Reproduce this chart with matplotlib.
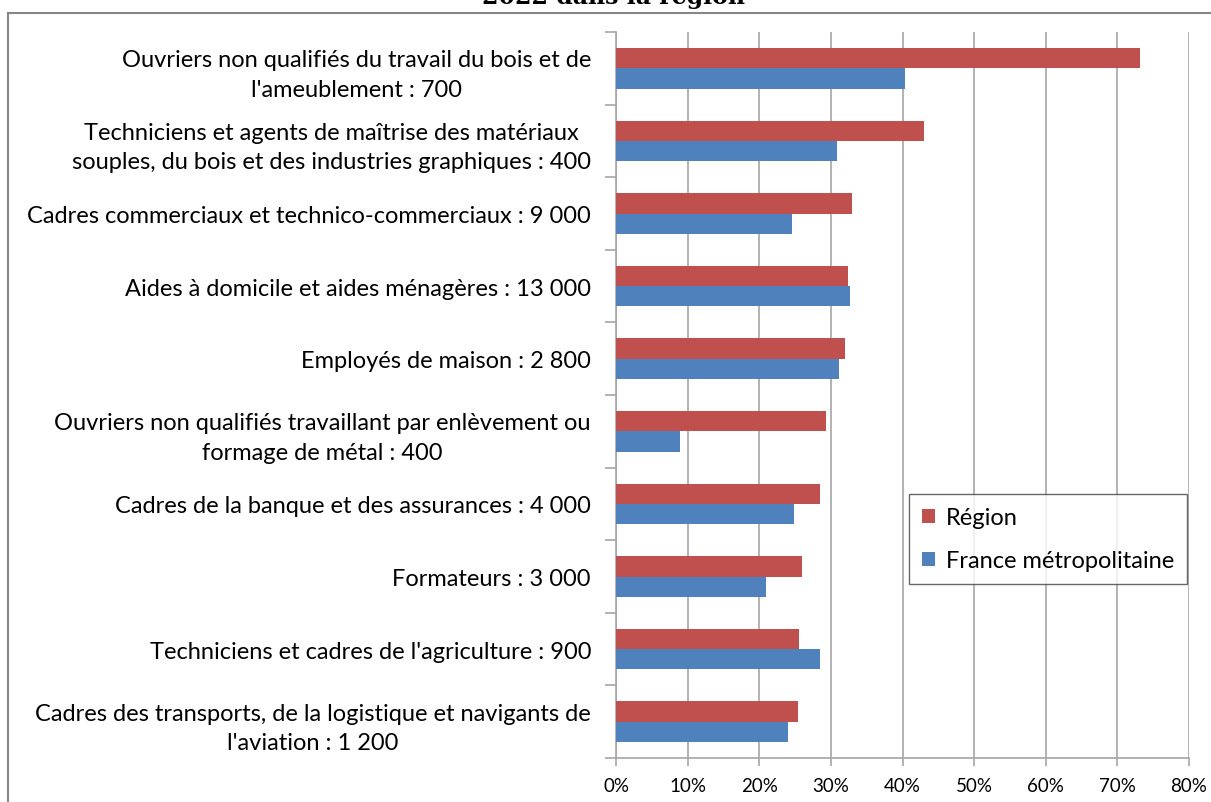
import matplotlib.pyplot as plt
from matplotlib.lines import Line2D
import numpy as np

plt.rcParams['font.family'] = ['Lato', 'DejaVu Sans']

categories = [
    "Ouvriers non qualifiés du travail du bois et de\nl'ameublement : 700",
    "Techniciens et agents de maîtrise des matériaux\nsouples, du bois et des industries graphiques : 400",
    "Cadres commerciaux et technico-commerciaux : 9 000",
    "Aides à domicile et aides ménagères : 13 000",
    "Employés de maison : 2 800",
    "Ouvriers non qualifiés travaillant par enlèvement ou\nformage de métal : 400",
    "Cadres de la banque et des assurances : 4 000",
    "Formateurs : 3 000",
    "Techniciens et cadres de l'agriculture : 900",
    "Cadres des transports, de la logistique et navigants de\nl'aviation : 1 200",
]
region = [73.2, 43.0, 32.9, 32.4, 32.0, 29.3, 28.5, 25.9, 25.6, 25.4]
france = [40.4, 30.8, 24.6, 32.7, 31.1, 9.0, 24.8, 20.9, 28.5, 24.0]
xticks = [0, 10, 20, 30, 40, 50, 60, 70, 80]

red = '#c0504d'
blue = '#4f81bd'
grid = '#a6a6a6'

W, H = 1211, 803
fig = plt.figure(figsize=(W / 100, H / 100), dpi=100)
ax = fig.add_axes([616 / W, 1 - 759 / H, (1189 - 616) / W, (759 - 33) / H])

n = len(categories)
y = np.arange(n)
h = 0.28
ax.barh(y - h / 2, region, height=h, color=red, label='Région', zorder=3)
ax.barh(y + h / 2, france, height=h, color=blue, label='France métropolitaine', zorder=3)

ax.set_ylim(n - 0.5, -0.5)
ax.set_xlim(0, 80)
ax.set_xticks(xticks)
ax.set_xticklabels([f'{t}%' for t in xticks], fontsize=13.5)
ax.set_yticks(y)
ax.set_yticklabels(categories, fontsize=17, multialignment='center', linespacing=1.5)
ax.tick_params(axis='y', length=0, pad=18)
ax.set_yticks(np.arange(n + 1) - 0.5, minor=True)
ax.tick_params(axis='y', which='minor', length=8, color=grid, width=1.2)
ax.tick_params(axis='x', length=6, color=grid, width=1.2, pad=8)

ax.grid(axis='x', color=grid, linewidth=1.2, zorder=0)
for s in ['top', 'right']:
    ax.spines[s].set_visible(False)
for s in ['left', 'bottom']:
    ax.spines[s].set_color(grid)
    ax.spines[s].set_linewidth(1.2)

leg = ax.legend(loc='upper left', bbox_to_anchor=((909 - 616) / (1189 - 616), 1 - (495 - 33) / (759 - 33)),
                fontsize=17, frameon=True, fancybox=False, edgecolor='#404040',
                handlelength=0.55, handleheight=0.55, handletextpad=0.45,
                labelspacing=0.95, borderpad=0.55, borderaxespad=0)
leg.get_frame().set_linewidth(1.0)

# outer chart frame (partly cut by the image border)
fig.add_artist(Line2D([8 / W, 8 / W], [0, 1 - 14 / H], color='#868686', linewidth=1.5))
fig.add_artist(Line2D([8 / W, 1], [1 - 14 / H, 1 - 14 / H], color='#868686', linewidth=1.5))

fig.text(613 / W, 1 - 4 / H, '2022 dans la région', ha='center', va='baseline',
         fontsize=17, fontweight='bold', family='DejaVu Serif')

fig.savefig('out.png', dpi=100)
